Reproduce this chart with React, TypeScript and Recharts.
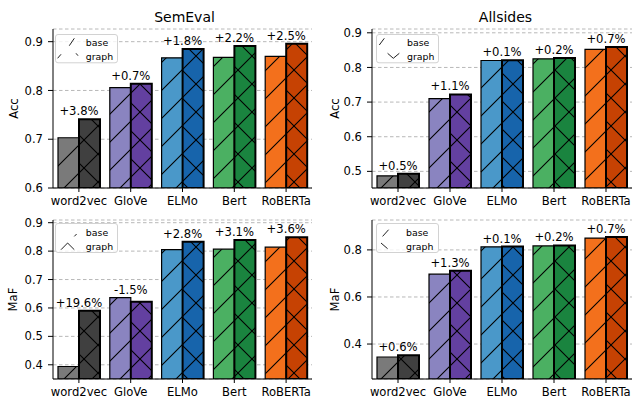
import React from 'react';
import { BarChart, Bar, XAxis, YAxis, CartesianGrid, Cell, LabelList, Legend } from 'recharts';

const categories = ['word2vec', 'GloVe', 'ELMo', 'Bert', 'RoBERTa'];

const semevalAccBase = [0.703, 0.806, 0.867, 0.868, 0.870];
const semevalAccGraph = [0.741, 0.814, 0.885, 0.891, 0.896];
const semevalAccGain = ['+3.8%', '+0.7%', '+1.8%', '+2.2%', '+2.5%'];

const allsidesAccBase = [0.487, 0.710, 0.820, 0.825, 0.852];
const allsidesAccGraph = [0.493, 0.722, 0.821, 0.827, 0.859];
const allsidesAccGain = ['+0.5%', '+1.1%', '+0.1%', '+0.2%', '+0.7%'];

const semevalMafBase = [0.394, 0.636, 0.805, 0.807, 0.814];
const semevalMafGraph = [0.590, 0.622, 0.833, 0.839, 0.849];
const semevalMafGain = ['+19.6%', '-1.5%', '+2.8%', '+3.1%', '+3.6%'];

const allsidesMafBase = [0.345, 0.697, 0.813, 0.817, 0.850];
const allsidesMafGraph = [0.352, 0.711, 0.814, 0.819, 0.855];
const allsidesMafGain = ['+0.6%', '+1.3%', '+0.1%', '+0.2%', '+0.7%'];

const ticksSemevalAcc = [0.6, 0.7, 0.8, 0.9];
const ticksAllsidesAcc = [0.5, 0.6, 0.7, 0.8, 0.9];
const ticksSemevalMaf = [0.4, 0.5, 0.6, 0.7, 0.8, 0.9];
const ticksAllsidesMaf = [0.4, 0.6, 0.8];

const baseColors = ['#7a7a7a', '#8a84c0', '#4a98c9', '#4bb062', '#f3701c'];
const graphColors = ['#404040', '#6340a0', '#1764ab', '#1a843f', '#c64203'];

const FONT = 'DejaVu Sans, sans-serif';
const H = 28;
const SLASH = `M${-H / 4},${H / 4} L${H / 4},${-H / 4} M0,${H} L${H},0 M${(3 * H) / 4},${(5 * H) / 4} L${(5 * H) / 4},${(3 * H) / 4}`;
const BACK = `M${-H / 4},${(3 * H) / 4} L${H / 4},${(5 * H) / 4} M0,0 L${H},${H} M${(3 * H) / 4},${-H / 4} L${(5 * H) / 4},${H / 4}`;

type PanelProps = {
  id: string;
  left: number;
  top: number;
  width: number;
  height: number;
  rightMargin: number;
  yAxisWidth: number;
  xAxisHeight: number;
  domain: [number, number];
  ticks: number[];
  base: number[];
  graph: number[];
  gains: string[];
  title?: string;
  titleX?: number;
  yLabel: string;
  yLabelX: number;
  legend: { left: number; top: number; w: number; h: number; baseHandle: string; graphHandle: string; textX: number; baseY: number; graphY: number };
};

function makeGainLabel(series: 'base' | 'graph', base: number[], graph: number[], gains: string[]) {
  return (props: any) => {
    const { x, y, width, index } = props;
    const taller = base[index] > graph[index] ? 'base' : 'graph';
    if (taller !== series) return null;
    const cx = series === 'base' ? Number(x) + Number(width) : Number(x);
    return (
      <text x={cx} y={Number(y) - 4} textAnchor="middle" fontSize={11.6} fill="#000" fontFamily={FONT}>
        {gains[index]}
      </text>
    );
  };
}

function Panel(p: PanelProps) {
  const data = categories.map((c, i) => ({ name: c, base: p.base[i], graph: p.graph[i] }));
  const plotTop = 29;
  const plotBottom = p.height - p.xAxisHeight;
  const lg = p.legend;
  return (
    <div style={{ position: 'absolute', left: p.left, top: p.top }}>
      <BarChart
        width={p.width}
        height={p.height}
        data={data}
        margin={{ top: plotTop, right: p.rightMargin, left: 0, bottom: 0 }}
        barCategoryGap={5}
        barGap={0}
      >
        <defs>
          {categories.map((_, i) => (
            <React.Fragment key={i}>
              <pattern id={`${p.id}-b${i}`} patternUnits="userSpaceOnUse" width={H} height={H}>
                <rect width={H} height={H} fill={baseColors[i]} />
                <path d={SLASH} stroke="#000" strokeWidth={1.1} fill="none" />
              </pattern>
              <pattern id={`${p.id}-g${i}`} patternUnits="userSpaceOnUse" width={H} height={H}>
                <rect width={H} height={H} fill={graphColors[i]} />
                <path d={SLASH} stroke="#000" strokeWidth={1.1} fill="none" />
                <path d={BACK} stroke="#000" strokeWidth={1.1} fill="none" />
              </pattern>
            </React.Fragment>
          ))}
        </defs>
        <CartesianGrid vertical={false} stroke="#b8b8b8" strokeDasharray="3.5 2.5" />
        <XAxis
          dataKey="name"
          height={p.xAxisHeight}
          tickSize={4}
          tickMargin={5}
          interval={0}
          axisLine={{ stroke: '#000' }}
          tickLine={{ stroke: '#000' }}
          tick={{ fill: '#000', fontSize: 11.6, fontFamily: FONT }}
        />
        <XAxis xAxisId="top" dataKey="name" orientation="top" height={0} tick={false} tickLine={false} axisLine={{ stroke: '#000' }} />
        <YAxis
          width={p.yAxisWidth}
          domain={p.domain}
          allowDataOverflow
          ticks={p.ticks}
          tickFormatter={(v: number) => v.toFixed(1)}
          tickSize={5}
          tickMargin={5}
          axisLine={{ stroke: '#000' }}
          tickLine={{ stroke: '#000' }}
          tick={{ fill: '#000', fontSize: 11.6, fontFamily: FONT }}
        />
        <YAxis yAxisId="right" orientation="right" width={0} domain={p.domain} allowDataOverflow tick={false} tickLine={false} axisLine={{ stroke: '#000' }} />
        <Bar dataKey="base" isAnimationActive={false} stroke="#000" strokeWidth={1.2}>
          {categories.map((_, i) => (
            <Cell key={i} fill={`url(#${p.id}-b${i})`} />
          ))}
          <LabelList dataKey="base" content={makeGainLabel('base', p.base, p.graph, p.gains)} />
        </Bar>
        <Bar dataKey="graph" isAnimationActive={false} stroke="#000" strokeWidth={2}>
          {categories.map((_, i) => (
            <Cell key={i} fill={`url(#${p.id}-g${i})`} />
          ))}
          <LabelList dataKey="graph" content={makeGainLabel('graph', p.base, p.graph, p.gains)} />
        </Bar>
        <Legend
          layout="vertical"
          align="center"
          verticalAlign="middle"
          wrapperStyle={{ left: lg.left, top: lg.top, width: lg.w + 2, height: lg.h + 2 }}
          content={() => (
            <svg width={lg.w + 2} height={lg.h + 2} style={{ display: 'block' }}>
              <rect x={0.5} y={0.5} width={lg.w} height={lg.h} rx={2.5} fill="rgba(255,255,255,0.8)" stroke="#d2d2d2" strokeWidth={1} />
              <path d={lg.baseHandle} stroke="#222" strokeWidth={1} fill="none" />
              <path d={lg.graphHandle} stroke="#222" strokeWidth={1} fill="none" />
              <text x={lg.textX} y={lg.baseY} fontSize={9.4} fill="#000" fontFamily={FONT}>base</text>
              <text x={lg.textX} y={lg.graphY} fontSize={9.4} fill="#000" fontFamily={FONT}>graph</text>
            </svg>
          )}
        />
        {p.title ? (
          <text x={p.titleX} y={22} textAnchor="middle" fontSize={14} fill="#000" fontFamily={FONT}>
            {p.title}
          </text>
        ) : null}
        <text
          x={p.yLabelX}
          y={(plotTop + plotBottom) / 2}
          transform={`rotate(-90 ${p.yLabelX} ${(plotTop + plotBottom) / 2})`}
          textAnchor="middle"
          fontSize={11.6}
          fill="#000"
          fontFamily={FONT}
        >
          {p.yLabel}
        </text>
      </BarChart>
    </div>
  );
}

export default function App() {
  return (
    <div style={{ position: 'absolute', left: 0, top: 0, width: 634, height: 401, background: '#fff', fontFamily: FONT }}>
      <Panel
        id="sa"
        left={0}
        top={0}
        width={316}
        height={215}
        rightMargin={4}
        yAxisWidth={53}
        xAxisHeight={27}
        domain={[0.6, 0.926]}
        ticks={ticksSemevalAcc}
        base={semevalAccBase}
        graph={semevalAccGraph}
        gains={semevalAccGain}
        title="SemEval"
        titleX={184.5}
        yLabel="Acc"
        yLabelX={17.5}
        legend={{ left: 55, top: 33.5, w: 62, h: 28.3, baseHandle: 'M14.3,11.7 L19.3,4.3', graphHandle: 'M2.6,24.3 L6,20.3 M21,19.3 L23,21.7', textX: 30.8, baseY: 11.5, graphY: 25.5 }}
      />
      <Panel
        id="aa"
        left={317}
        top={0}
        width={317}
        height={215}
        rightMargin={2}
        yAxisWidth={55}
        xAxisHeight={27}
        domain={[0.452, 0.911]}
        ticks={ticksAllsidesAcc}
        base={allsidesAccBase}
        graph={allsidesAccGraph}
        gains={allsidesAccGain}
        title="Allsides"
        titleX={188.5}
        yLabel="Acc"
        yLabelX={22}
        legend={{ left: 59, top: 33.5, w: 62, h: 28.3, baseHandle: 'M3.3,11 L8.3,4.3', graphHandle: 'M11.6,19.3 L17.3,24.3 L23.3,19.3', textX: 31, baseY: 11.5, graphY: 25.5 }}
      />
      <Panel
        id="sm"
        left={0}
        top={191}
        width={316}
        height={210}
        rightMargin={4}
        yAxisWidth={53}
        xAxisHeight={22}
        domain={[0.35, 0.9095]}
        ticks={ticksSemevalMaf}
        base={semevalMafBase}
        graph={semevalMafGraph}
        gains={semevalMafGain}
        yLabel="MaF"
        yLabelX={17}
        legend={{ left: 55, top: 31.8, w: 62, h: 29, baseHandle: 'M19.3,13.4 L21.6,11', graphHandle: 'M6,26.7 L12.6,20 L19.3,26.7', textX: 30.8, baseY: 12.7, graphY: 26.7 }}
      />
      <Panel
        id="am"
        left={317}
        top={191}
        width={317}
        height={210}
        rightMargin={2}
        yAxisWidth={55}
        xAxisHeight={22}
        domain={[0.2515, 0.927]}
        ticks={ticksAllsidesMaf}
        base={allsidesMafBase}
        graph={allsidesMafGraph}
        gains={allsidesMafGain}
        yLabel="MaF"
        yLabelX={21.5}
        legend={{ left: 59, top: 31.8, w: 62, h: 29, baseHandle: 'M6.6,13.4 L12.6,6.7', graphHandle: 'M5,20 L11.6,25.7', textX: 30, baseY: 12.7, graphY: 26.7 }}
      />
    </div>
  );
}
